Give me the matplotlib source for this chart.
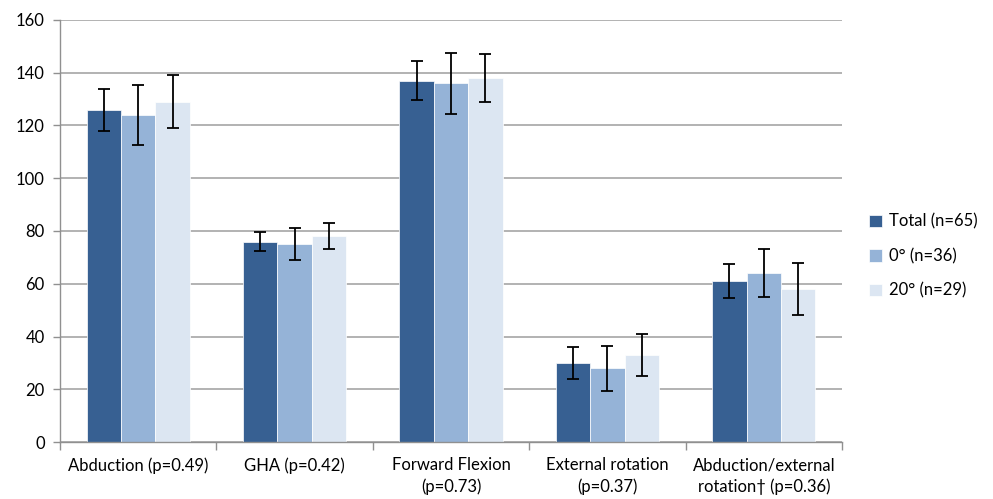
import matplotlib.pyplot as plt
import numpy as np

plt.rcParams['font.family'] = ['Lato', 'DejaVu Sans']

# Range of motion by group
categories = ["Abduction (p=0.49)", "GHA (p=0.42)", "Forward Flexion\n(p=0.73)",
              "External rotation\n(p=0.37)", "Abduction/external\nrotation\u2020 (p=0.36)"]
series = ["Total (n=65)", "0\u00b0 (n=36)", "20\u00b0 (n=29)"]
means = [
    [126, 76, 137, 30, 61],
    [124, 75, 136, 28, 64],
    [129, 78, 138, 33, 58],
]
errors = [
    [8, 3.5, 7.5, 6, 6.5],
    [11.5, 6, 11.5, 8.5, 9],
    [10, 5, 9, 8, 10],
]
colors = ["#376092", "#95B3D7", "#DCE6F2"]

fig = plt.figure(figsize=(9.93, 4.99), dpi=100)
ax = fig.add_axes([0.0604, 0.1142, 0.7876, 0.8458])

x = np.arange(len(categories))
width = 0.22
for i, (s, m, e, c) in enumerate(zip(series, means, errors, colors)):
    ax.bar(x + (i - 1) * width, m, width, color=c, label=s, zorder=2,
           edgecolor="white", linewidth=0.5)
    ax.errorbar(x + (i - 1) * width, m, yerr=e, fmt="none", ecolor="black",
                elinewidth=1.3, capsize=4, capthick=1.3, zorder=3)

ax.set_xlim(-0.5, len(categories) - 0.5)
ax.set_ylim(0, 160)
ax.set_yticks(np.arange(0, 161, 20))
ax.yaxis.grid(True, color="#A6A6A6", linewidth=1.2, zorder=0)
ax.set_axisbelow(True)

ax.set_xticks(x)
ax.set_xticklabels(categories, fontsize=12, linespacing=1.35)
ax.set_xticks(np.arange(-0.5, len(categories), 1), minor=True)
ax.tick_params(axis="x", which="major", length=0, pad=11)
ax.tick_params(axis="x", which="minor", length=6, color="#909090", width=1)
ax.tick_params(axis="y", length=5, color="#909090", width=1, labelsize=12, pad=6)

for side in ["top", "right"]:
    ax.spines[side].set_visible(False)
for side in ["left", "bottom"]:
    ax.spines[side].set_color("#909090")
    ax.spines[side].set_linewidth(1)

ax.legend(loc="center left", bbox_to_anchor=(1.015, 0.44), frameon=False,
          fontsize=12, handlelength=0.8, handleheight=0.8, handletextpad=0.4,
          labelspacing=1.1)

fig.savefig("out.png", dpi=100)
